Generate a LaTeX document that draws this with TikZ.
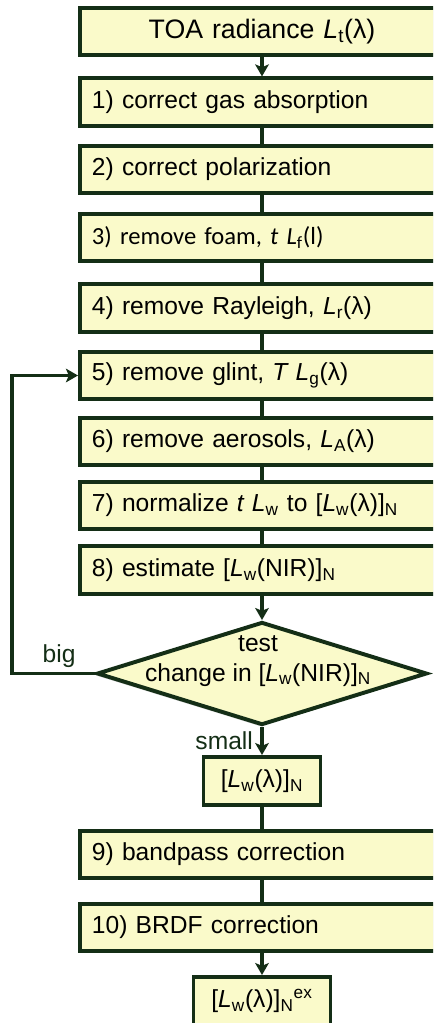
\documentclass[tikz,border=0pt]{standalone}
\usepackage{fontspec}
\setmainfont{Liberation Sans}
\newfontfamily\calibrifont{Carlito}
\usetikzlibrary{shapes.geometric, arrows.meta, shadows}
\definecolor{boxfill}{RGB}{250,250,202}
\definecolor{edgegreen}{RGB}{20,46,22}

\begin{document}
\begin{tikzpicture}[x=0.025cm, y=-0.025cm, >={Stealth[length=0.3cm, width=0.34cm, inset=0.07cm]},
    shade/.style={drop shadow={shadow xshift=-0.04cm, shadow yshift=-0.05cm, fill=black, opacity=0.18}},
    stepbox/.style={draw=edgegreen, fill=boxfill, line width=2.8pt, shade, minimum height=1.18cm,
        text width=8.5cm, inner xsep=0.3cm, align=left, font=\fontsize{17.5}{21}\selectfont},
    resultbox/.style={draw=edgegreen, fill=boxfill, line width=2.8pt, shade, minimum height=1.2cm,
        font=\fontsize{17.5}{21}\selectfont},
    link/.style={edgegreen, line width=2.3pt},
    flow/.style={link, ->},
    lbl/.style={font=\fontsize{17.5}{21}\selectfont}]
    \useasboundingbox (0,0) rectangle (433,1023);
    \clip (0,0) rectangle (433,1023);

    % Input
    \node[stepbox, align=center, font=\fontsize{19}{22}\selectfont] (toa) at (262,31.5)
        {TOA radiance \textit{L}\textsubscript{t}(λ)};

    % Correction steps
    \node[stepbox] (s1) at (262,102) {1) correct gas absorption};
    \node[stepbox] (s2) at (262,169.5) {2) correct polarization};
    \node[stepbox, font=\calibrifont\fontsize{17.5}{21}\selectfont] (s3) at (262,237.5)
        {3) remove foam, \textit{t L}\textsubscript{f}(l)};
    \node[stepbox] (s4) at (262,308) {4) remove Rayleigh, \textit{L}\textsubscript{r}(λ)};
    \node[stepbox] (s5) at (262,375.5) {5) remove glint, \textit{T L}\textsubscript{g}(λ)};
    \node[stepbox] (s6) at (262,441.5) {6) remove aerosols, \textit{L}\textsubscript{A}(λ)};
    \node[stepbox] (s7) at (262,505.5)
        {7) normalize \textit{t L}\textsubscript{w} to [\textit{L}\textsubscript{w}(λ)]\textsubscript{N}};
    \node[stepbox] (s8) at (262,570) {8) estimate [\textit{L}\textsubscript{w}(NIR)]\textsubscript{N}};

    % Test
    \node[diamond, draw=edgegreen, fill=boxfill, line width=2.8pt, shade, inner sep=0pt,
        minimum width=8.25cm, minimum height=2.575cm] (test) at (262,673.5) {};
    \node[lbl, align=center] (testtxt) at (258,661)
        {test\\change in [\textit{L}\textsubscript{w}(NIR)]\textsubscript{N}};

    \node[resultbox, minimum width=2.925cm] (lwn) at (262,781)
        {[\textit{L}\textsubscript{w}(λ)]\textsubscript{N}};
    \node[stepbox] (s9) at (262,854.5) {9) bandpass correction};
    \node[stepbox] (s10) at (262,927.5) {10) BRDF correction};
    \node[resultbox, minimum width=3.425cm] (lwnex) at (262,1001)
        {[\textit{L}\textsubscript{w}(λ)]\textsubscript{N}\textsuperscript{ex}};

    % Connectors
    \draw[flow] (toa) -- (s1);
    \foreach \a/\b in {s1/s2,s2/s3,s3/s4,s4/s5,s5/s6,s6/s7,s7/s8,lwn/s9,s9/s10}
        \draw[link] (\a) -- (\b);
    \draw[flow] (s8) -- (test);
    \draw[flow] (test) -- node[lbl, left, xshift=-2pt] {small} (lwn);
    \draw[flow] (s10) -- (lwnex);

    % Loop back to glint
    \coordinate (back) at (12,673.5);
    \draw[flow] (test.west) -- node[lbl, above, xshift=4pt] {big} (back) |- (s5.west);
\end{tikzpicture}
\end{document}
